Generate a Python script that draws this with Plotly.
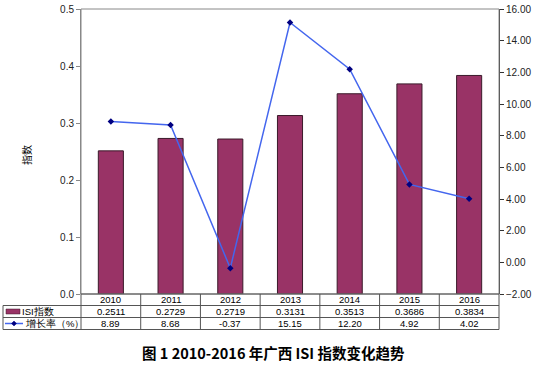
import plotly.graph_objects as go

years = ["2010", "2011", "2012", "2013", "2014", "2015", "2016"]
isi_values = [0.2511, 0.2729, 0.2719, 0.3131, 0.3513, 0.3686, 0.3834]
growth_rates = [8.89, 8.68, -0.37, 15.15, 12.20, 4.92, 4.02]
isi_labels = ["0.2511", "0.2729", "0.2719", "0.3131", "0.3513", "0.3686", "0.3834"]
growth_labels = ["8.89", "8.68", "-0.37", "15.15", "12.20", "4.92", "4.02"]
series_names = ["ISI指数", "增长率（%）"]
title_text = "图 1 2010-2016 年广西 ISI 指数变化趋势"
yaxis_title = "指数"

W, H = 538, 367
L, R, T, B = 81, 499, 9, 294
pw, ph = R - L, B - T

def px(x):
    return (x - L) / pw

def py(y):
    return (B - y) / ph

BAR = "#993366"
LINE = "#4466EE"
MARK = "#000080"
FONT = "Arial, Liberation Sans, sans-serif"

fig = go.Figure()
fig.add_trace(go.Bar(x=years, y=isi_values, name=series_names[0],
                     marker=dict(color=BAR, line=dict(color="#3a1a2a", width=1)),
                     width=0.42, yaxis="y"))
fig.add_trace(go.Scatter(x=years, y=growth_rates, name=series_names[1], mode="lines+markers",
                         line=dict(color=LINE, width=1.5),
                         marker=dict(symbol="diamond", size=5, color=MARK),
                         yaxis="y2"))

shapes = []
annotations = []
shapes.append(dict(type="rect", xref="paper", yref="paper", x0=0, x1=1, y0=0, y1=1,
                   line=dict(color="#888888", width=1)))

row_y = [294, 305.5, 317.5, 329.5]
ncat = len(years)
cw = pw / ncat
line_col = "#555555"
shapes.append(dict(type="line", xref="paper", yref="paper", x0=px(L), x1=px(R), y0=py(row_y[0]), y1=py(row_y[0]), line=dict(color=line_col, width=1)))
for yy in row_y[1:]:
    shapes.append(dict(type="line", xref="paper", yref="paper", x0=px(3), x1=px(R), y0=py(yy), y1=py(yy), line=dict(color=line_col, width=1)))
shapes.append(dict(type="line", xref="paper", yref="paper", x0=px(3), x1=px(3), y0=py(row_y[1]), y1=py(row_y[3]), line=dict(color=line_col, width=1)))
for i in range(ncat + 1):
    xx = L + i * cw
    shapes.append(dict(type="line", xref="paper", yref="paper", x0=px(xx), x1=px(xx), y0=py(row_y[0]), y1=py(row_y[3]), line=dict(color=line_col, width=1)))

rows = [years, isi_labels, growth_labels]
for r, labels in enumerate(rows):
    yc = (row_y[r] + row_y[r + 1]) / 2
    for i, lab in enumerate(labels):
        xc = L + (i + 0.5) * cw
        annotations.append(dict(x=px(xc), y=py(yc), xref="paper", yref="paper", text=lab,
                                showarrow=False, font=dict(size=9.5, color="#000000", family=FONT),
                                xanchor="center", yanchor="middle"))

yc1 = (row_y[1] + row_y[2]) / 2
yc2 = (row_y[2] + row_y[3]) / 2
shapes.append(dict(type="rect", xref="paper", yref="paper", x0=px(6), x1=px(20), y0=py(yc1 + 2.5), y1=py(yc1 - 2.5),
                   fillcolor=BAR, line=dict(color="#3a1a2a", width=0.5)))
annotations.append(dict(x=px(20), y=py(yc1), xref="paper", yref="paper", text=series_names[0], showarrow=False,
                        font=dict(size=9.5, color="#000", family=FONT), xanchor="left", yanchor="middle"))
shapes.append(dict(type="line", xref="paper", yref="paper", x0=px(5), x1=px(23), y0=py(yc2), y1=py(yc2),
                   line=dict(color=LINE, width=1.5)))
shapes.append(dict(type="path", xref="paper", yref="paper",
                   path=f"M {px(14)} {py(yc2-2.5)} L {px(16.5)} {py(yc2)} L {px(14)} {py(yc2+2.5)} L {px(11.5)} {py(yc2)} Z",
                   fillcolor=MARK, line=dict(color=MARK, width=0.5)))
annotations.append(dict(x=px(23), y=py(yc2), xref="paper", yref="paper", text=series_names[1], showarrow=False,
                        font=dict(size=9.5, color="#000", family=FONT), xanchor="left", yanchor="middle"))

annotations.append(dict(x=px(26), y=py(155), xref="paper", yref="paper", text=yaxis_title, showarrow=False,
                        textangle=-90, font=dict(size=10, color="#000", family="Noto Sans CJK SC"),
                        xanchor="center", yanchor="middle"))
annotations.append(dict(x=px(273), y=py(352), xref="paper", yref="paper", text="<b>" + title_text + "</b>",
                        showarrow=False, font=dict(size=14.5, color="#000", family="Noto Sans CJK SC"),
                        xanchor="center", yanchor="middle"))

fig.update_layout(
    width=W, height=H,
    margin=dict(l=L, r=W - R, t=T, b=H - B, pad=0, autoexpand=False),
    paper_bgcolor="white", plot_bgcolor="white",
    showlegend=False,
    bargap=0.58,
    font=dict(family=FONT, size=10, color="#000"),
    xaxis=dict(type="category", showticklabels=False, ticks="", showgrid=False, zeroline=False,
               showline=False, range=[-0.5, 6.5]),
    yaxis=dict(range=[0, 0.5], dtick=0.1, tickformat=".1f", showgrid=False, zeroline=False,
               showline=True, linecolor="#888888", linewidth=1, ticks="outside", ticklen=4,
               tickcolor="#888888", tickfont=dict(size=10, family=FONT, color="#222")),
    yaxis2=dict(range=[-2, 16], dtick=2, tickformat=".2f", overlaying="y", side="right",
                showgrid=False, zeroline=False, showline=True, linecolor="#333333", linewidth=1,
                ticks="outside", ticklen=4, tickcolor="#333333",
                tickfont=dict(size=10, family=FONT, color="#222")),
    shapes=shapes, annotations=annotations,
)

fig.write_html("out.html", config={"displayModeBar": False},
               post_script="document.body.style.margin='0';document.body.style.padding='0';")
